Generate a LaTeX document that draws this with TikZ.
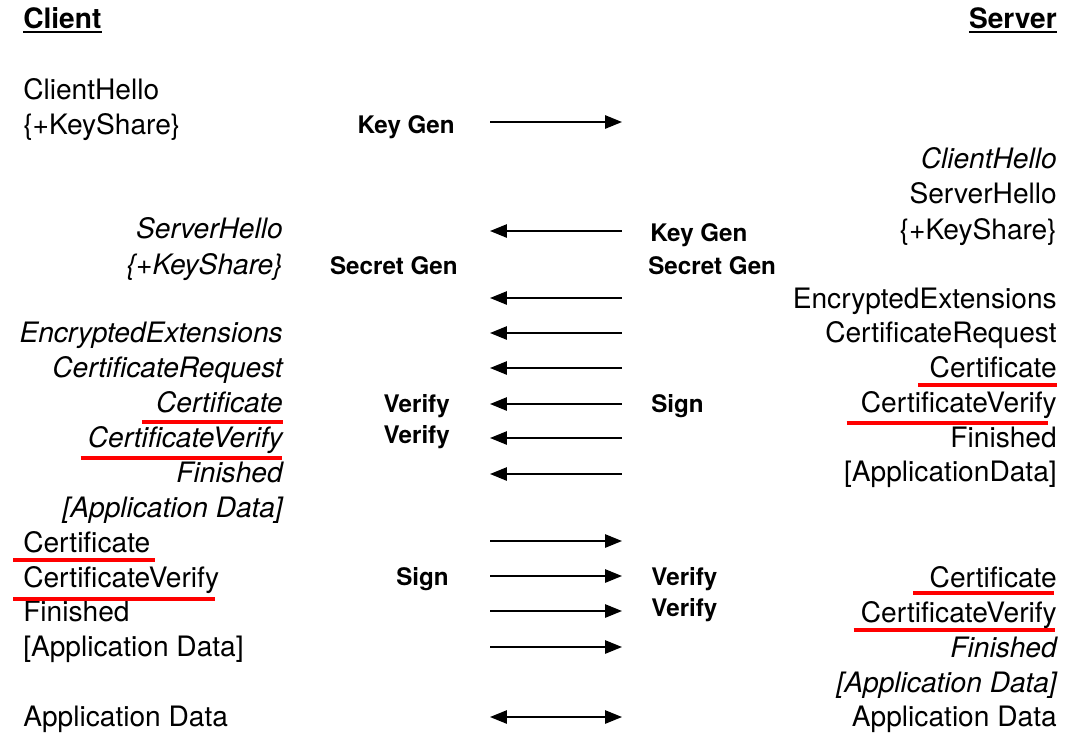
\documentclass[tikz,border=0pt]{standalone}
\usepackage{fontspec}
\setmainfont{TeX Gyre Heros}
\usetikzlibrary{arrows.meta, calc}

\begin{document}
\begin{tikzpicture}[x=0.025cm, y=-0.025cm,
    txt/.style={inner sep=0pt, font=\fontsize{20}{24}\selectfont},
    cl/.style={txt, anchor=base west},
    ci/.style={txt, anchor=base east, font=\fontsize{20}{24}\selectfont\itshape},
    sv/.style={txt, anchor=base east},
    si/.style={ci},
    head/.style={txt, font=\fontsize{20}{24}\selectfont\bfseries},
    op/.style={inner sep=0pt, font=\fontsize{17.2}{20}\selectfont\bfseries},
    opl/.style={op, anchor=base east},
    opr/.style={op, anchor=base west},
    msgline/.style={line width=1.2pt},
    fwd/.style={-{Triangle[length=0.42cm, width=0.33cm]}},
    bwd/.style={{Triangle[length=0.42cm, width=0.33cm]}-},
    both/.style={{Triangle[length=0.42cm, width=0.33cm]}-{Triangle[length=0.42cm, width=0.33cm]}},
    ul/.style={draw=red, line width=2.8pt}]

    \useasboundingbox (0,0) rectangle (1089,732);

    % headers
    \node[head, anchor=base west] (client) at (23,28) {Client};
    \node[head, anchor=base east] (server) at (1057,28) {Server};
    \draw[line width=1.2pt] ($(client.base west)+(0,4)$) -- ($(client.base east)+(0,4)$);
    \draw[line width=1.2pt] ($(server.base west)+(0,4)$) -- ($(server.base east)+(0,4)$);

    % client side
    \node[cl] (chello) at (23,99)  {ClientHello};
    \node[cl] (cks)    at (23,134) {\{+KeyShare\}};
    \node[ci] (cshello) at (283,238) {ServerHello};
    \node[ci] (csks)   at (283,274) {\{+KeyShare\}};
    \node[ci] (cee)    at (283,342) {EncryptedExtensions};
    \node[ci] (ccr)    at (283,377) {CertificateRequest};
    \node[ci] (ccert)  at (283,412) {Certificate};
    \node[ci] (ccv)    at (283,447) {CertificateVerify};
    \node[ci] (cfin)   at (283,482) {Finished};
    \node[ci] (capp)   at (283,517) {[Application Data]};
    \node[cl] (ccert2) at (23,552) {Certificate};
    \node[cl] (ccv2)   at (23,587) {CertificateVerify};
    \node[cl] (cfin2)  at (23,621) {Finished};
    \node[cl] (capp2)  at (23,656) {[Application Data]};
    \node[cl] (cdata)  at (23,726) {Application Data};

    % server side
    \node[si] (schello) at (1057,168) {ClientHello};
    \node[sv] (sshello) at (1057,203) {ServerHello};
    \node[sv] (sks)    at (1057,239) {\{+KeyShare\}};
    \node[sv] (see)    at (1057,308) {EncryptedExtensions};
    \node[sv] (scr)    at (1057,342) {CertificateRequest};
    \node[sv] (scert)  at (1057,377) {Certificate};
    \node[sv] (scv)    at (1057,412) {CertificateVerify};
    \node[sv] (sfin)   at (1057,447) {Finished};
    \node[sv] (sapp)   at (1057,481) {[ApplicationData]};
    \node[sv] (scert2) at (1057,587) {Certificate};
    \node[sv] (scv2)   at (1057,622) {CertificateVerify};
    \node[si] (sfin2)  at (1057,657) {Finished};
    \node[si] (sapp2)  at (1057,692) {[Application Data]};
    \node[sv] (sdata)  at (1057,726) {Application Data};

    % operations
    \node[opl] (ckeygen) at (455,133) {Key Gen};
    \node[opl] (csecret) at (458,274) {Secret Gen};
    \node[opl] (cverif1) at (450,412) {Verify};
    \node[opl] (cverif2) at (450,443) {Verify};
    \node[opl] (csign)   at (449,585) {Sign};
    \node[opr] (skeygen) at (650,241) {Key Gen};
    \node[opr] (ssecret) at (648,274) {Secret Gen};
    \node[opr] (ssign)   at (651,412) {Sign};
    \node[opr] (sverif1) at (651,585) {Verify};
    \node[opr] (sverif2) at (651,616) {Verify};

    % messages
    \foreach \y/\dir [count=\i] in {122/fwd, 231/bwd, 298/bwd, 333/bwd, 368/bwd,
        404/bwd, 438/bwd, 474/bwd, 541/fwd, 576/fwd, 611/fwd, 647/fwd, 717/both} {
      \coordinate (a\i) at (490,\y);
      \coordinate (b\i) at (622,\y);
      \draw[msgline, \dir] (a\i) -- (b\i);
    }

    % red marks
    \draw[ul] ($(ccert.base west)+(-14,10)$) -- ($(ccert.base east)+(0,10)$);
    \draw[ul] ($(ccv.base west)+(-7,11)$) -- ($(ccv.base east)+(-1,11)$);
    \draw[ul] ($(scert.base west)+(-11,8)$) -- ($(scert.base east)+(0,8)$);
    \draw[ul] ($(scv.base west)+(-14,11)$) -- ($(scv.base east)+(-9,11)$);
    \draw[ul] ($(ccert2.base west)+(-10,8)$) -- ($(ccert2.base east)+(4,8)$);
    \draw[ul] ($(ccv2.base west)+(-10,12)$) -- ($(ccv2.base east)+(-4,12)$);
    \draw[ul] ($(scert2.base west)+(-16,6)$) -- ($(scert2.base east)+(-3,6)$);
    \draw[ul] ($(scv2.base west)+(-7,8)$) -- ($(scv2.base east)+(-2,8)$);
\end{tikzpicture}
\end{document}
